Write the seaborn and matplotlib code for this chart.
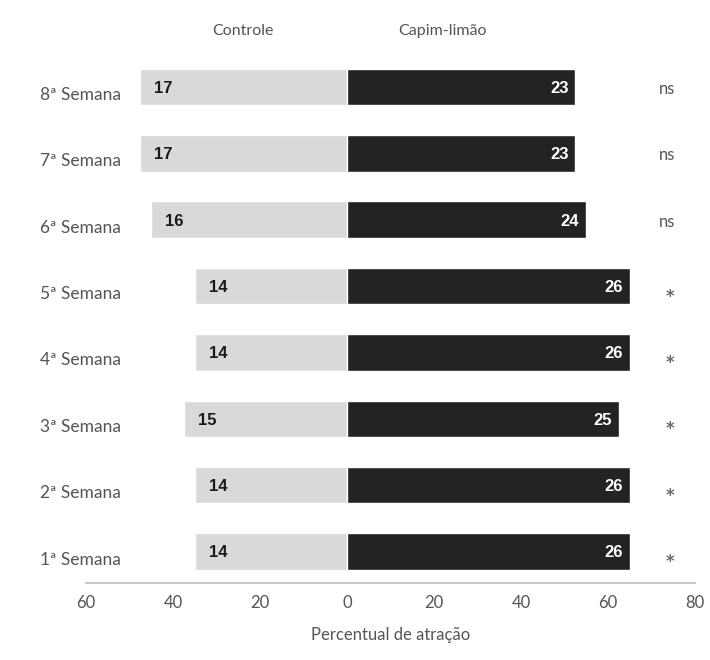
import matplotlib
matplotlib.use("Agg")
import matplotlib.pyplot as plt
import seaborn as sns
import pandas as pd

# Weeks listed top to bottom
weeks = ["8ª Semana", "7ª Semana", "6ª Semana", "5ª Semana",
         "4ª Semana", "3ª Semana", "2ª Semana", "1ª Semana"]
# Attraction percentages per treatment
controle_pct = [47.5, 47.5, 45.0, 35.0, 35.0, 37.5, 35.0, 35.0]
capim_pct = [52.5, 52.5, 55.0, 65.0, 65.0, 62.5, 65.0, 65.0]
# Insect counts printed on the bars
controle_n = [17, 17, 16, 14, 14, 15, 14, 14]
capim_n = [23, 23, 24, 26, 26, 25, 26, 26]
# Significance of the difference
signif = ["ns", "ns", "ns", "*", "*", "*", "*", "*"]
x_ticks = [-60, -40, -20, 0, 20, 40, 60, 80]

df = pd.DataFrame({
    "semana": weeks,
    "controle": [-v for v in controle_pct],
    "capim": capim_pct,
})

sns.set_theme(style="white")
plt.rcParams["font.family"] = ["Lato", "DejaVu Sans"]

fig = plt.figure(figsize=(7.1, 6.6), dpi=100)
ax = fig.add_axes([0.121, 0.1167, 0.858, 0.8018])

gray = "#d9d9d9"
dark = "#232323"
sns.barplot(data=df, x="controle", y="semana", orient="h", color=gray,
            width=0.55, saturation=1, ax=ax)
sns.barplot(data=df, x="capim", y="semana", orient="h", color=dark,
            width=0.55, saturation=1, ax=ax)

ax.set_xlim(-60, 80)
ax.set_ylim(7.474, -0.5)

# count labels on the bars
for i in range(len(weeks)):
    ax.annotate(str(controle_n[i]), xy=(-controle_pct[i], i), xytext=(10, -1),
                textcoords="offset points", ha="left", va="center",
                fontsize=12, fontweight="bold", color="#1a1a1a",
                family="Liberation Sans")
    ax.annotate(str(capim_n[i]), xy=(capim_pct[i], i), xytext=(-5, -1),
                textcoords="offset points", ha="right", va="center",
                fontsize=12, fontweight="bold", color="white",
                family="Liberation Sans")
    if signif[i] == "ns":
        ax.text(73.5, i + 0.03, signif[i], ha="center", va="center",
                fontsize=12, color="#555555")
    else:
        ax.text(74.3, i + 0.16, signif[i], ha="center", va="center",
                fontsize=12, color="#6a6a6a", fontweight="bold",
                family="DejaVu Sans")

# group headers
ax.text(-24, -0.85, "Controle", ha="center", va="center", fontsize=11.5,
        color="#555555")
ax.text(22, -0.85, "Capim-limão", ha="center", va="center", fontsize=11.5,
        color="#555555")

ax.set_xticks(x_ticks)
ax.set_xticklabels([str(abs(t)) for t in x_ticks], fontsize=12,
                   color="#555555")
ax.tick_params(axis="x", direction="inout", length=5, width=1,
               color="#c8c8c8", pad=6)
ax.tick_params(axis="y", length=0, pad=-25, labelsize=12.5,
               labelcolor="#555555")
for lab in ax.get_yticklabels():
    lab.set_horizontalalignment("right")
    lab.set_verticalalignment("top")

ax.set_xlabel("Percentual de atração", fontsize=12, color="#555555",
              labelpad=12)
ax.set_ylabel("")

for side in ["top", "right", "left"]:
    ax.spines[side].set_visible(False)
ax.spines["bottom"].set_color("#c8c8c8")
ax.spines["bottom"].set_linewidth(1.5)

fig.savefig("out.png", dpi=100)
